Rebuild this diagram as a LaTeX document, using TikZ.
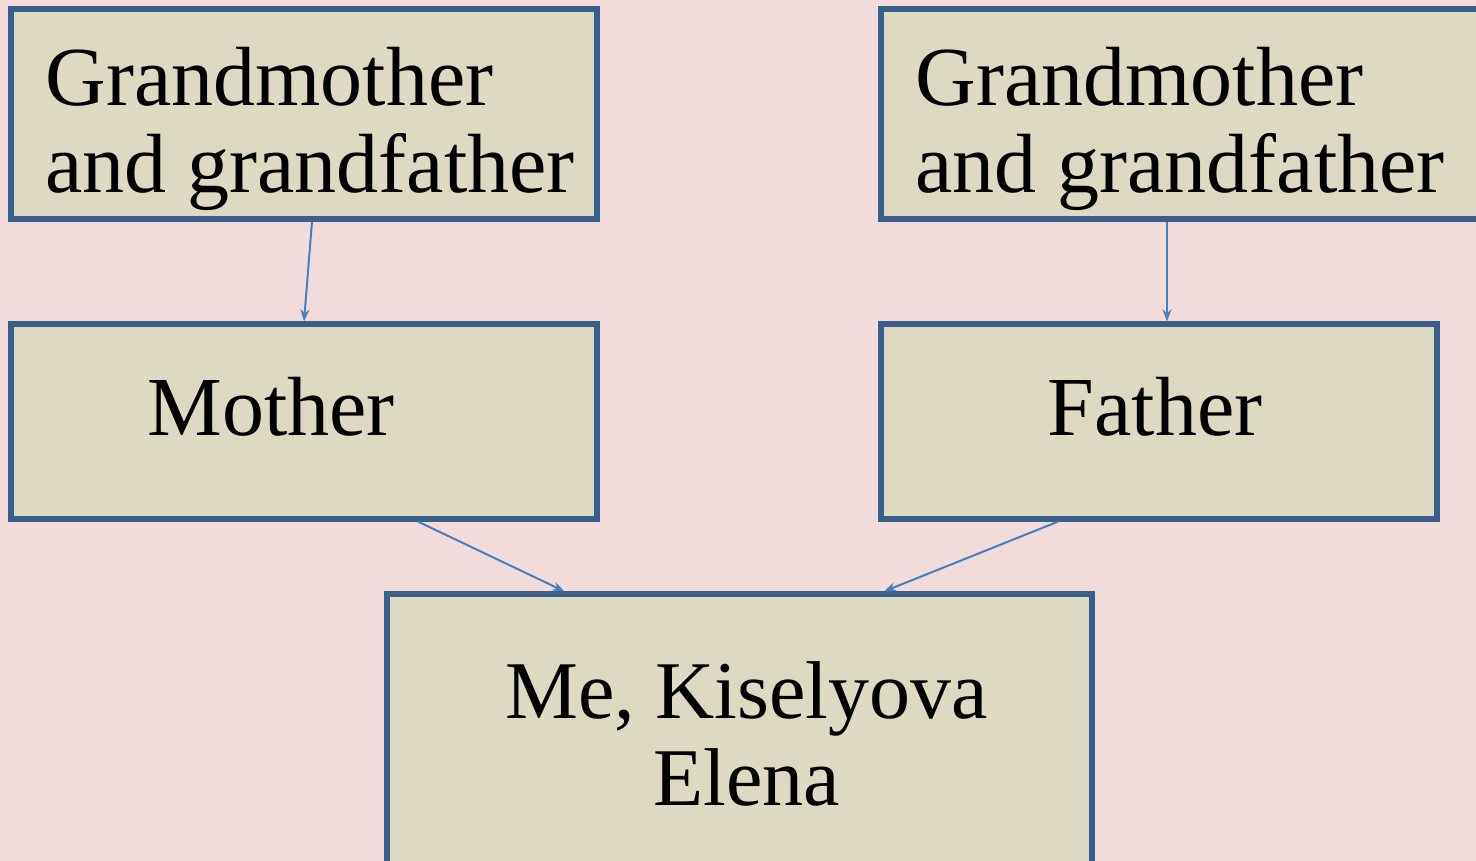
\documentclass[tikz,border=0pt]{standalone}
\usepackage{fontspec}
\setmainfont{Liberation Serif}
\usetikzlibrary{arrows.meta,calc}
\definecolor{bgc}{HTML}{F2DCDB}
\definecolor{boxc}{HTML}{DDD9C3}
\definecolor{bordc}{HTML}{3B5F8C}
\definecolor{arrc}{HTML}{4A7EBB}
\begin{document}
\begin{tikzpicture}[x=0.5pt,y=-0.5pt,
  box/.style={rectangle, draw=bordc, line width=2.6pt, fill=boxc, inner sep=0pt, line join=miter},
  lbl/.style={inner sep=0pt, font=\fontsize{42}{43.5}\selectfont, text=black},
  conn/.style={draw=arrc, line width=1pt, -{Stealth[length=6pt,width=4.5pt]}}]
\fill[bgc] (0,0) rectangle (1476,861);
\useasboundingbox (0,0) rectangle (1476,861);
\clip (0,0) rectangle (1476,861);
\node[box, minimum width=293pt, minimum height=105pt] (gl) at (304,114) {};
\node[box, minimum width=304.5pt, minimum height=105pt] (gr) at (1185.5,114) {};
\node[box, minimum width=293pt, minimum height=97.5pt] (mo) at (304,421.5) {};
\node[box, minimum width=278pt, minimum height=97.5pt] (fa) at (1159,421.5) {};
\node[box, minimum width=352.5pt, minimum height=153pt] (me) at (739.5,747) {};
\node[lbl, anchor=base west, align=left] (tgl) at (45,192) {Grandmother\\and grandfather};
\node[lbl, anchor=base west, align=left] (tgr) at (915,192) {Grandmother\\and grandfather};
\node[lbl, anchor=base] (tmo) at (271,435) {Mother};
\node[lbl, anchor=base] (tfa) at (1155,435) {Father};
\node[lbl, anchor=base, align=center, font=\fontsize{41}{43.5}\selectfont] (tme) at (746.5,805) {Me, Kiselyova\\Elena};
\draw[conn] ($(gl.south)+(8,0)$) -- (mo.north);
\draw[conn] ($(gr.south)+(-18.5,0)$) -- ($(fa.north)+(8,0)$);
\draw[conn] ($(mo.south)+(114,0)$) -- ($(me.north)+(-175,0)$);
\draw[conn] ($(fa.south)+(-101,0)$) -- ($(me.north)+(144.5,0)$);
\end{tikzpicture}
\end{document}
